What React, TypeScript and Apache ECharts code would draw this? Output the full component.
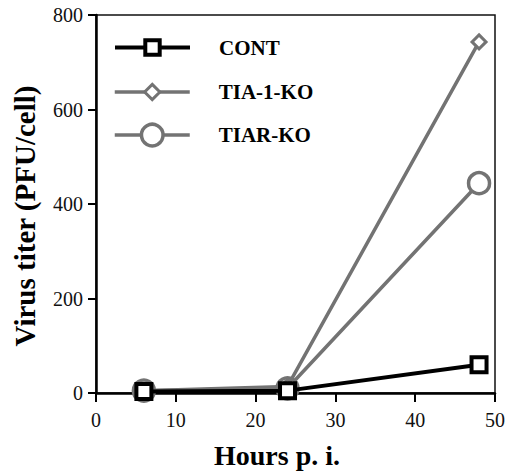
import React, { useEffect, useRef } from "react";
import * as echarts from "echarts";

const hours = [6, 24, 48];
const contValues = [3, 5, 60];
const tia1Values = [5, 14, 743];
const tiarValues = [5, 10, 444];
const seriesNames = ["CONT", "TIA-1-KO", "TIAR-KO"];
const xTitle = "Hours p. i.";
const yTitle = "Virus titer (PFU/cell)";

const FONT = "Liberation Serif";
const GRAY = "#737373";

export default function App() {
  const ref = useRef<HTMLDivElement>(null);
  useEffect(() => {
    if (!ref.current) return;
    const chart = echarts.init(ref.current, null, { renderer: "svg" });
    const pts = (vals: number[]) => hours.map((h, i) => [h, vals[i]]);
    const legendBase = (name: string, centerY: number, h: number, color: string, lw: number, bw: number) => ({
      data: [name],
      left: 113,
      top: centerY - h / 2,
      padding: 0,
      itemWidth: 75,
      itemHeight: h,
      selectedMode: false,
      lineStyle: { color, width: lw },
      itemStyle: { color: "#fff", borderColor: color, borderWidth: bw },
      textStyle: {
        fontFamily: FONT,
        fontWeight: "bold",
        fontSize: 21,
        color: "#000",
        padding: [0, 0, 0, 24],
      },
    });
    chart.setOption({
      animation: false,
      backgroundColor: "#fff",
      grid: {
        left: 96,
        right: 12,
        top: 15,
        bottom: 80,
        show: true,
        borderColor: "#111",
        borderWidth: 1.5,
        backgroundColor: "transparent",
      },
      legend: [
        legendBase(seriesNames[0], 46, 18, "#000", 4, 4),
        legendBase(seriesNames[1], 91, 19, GRAY, 3.5, 3),
        legendBase(seriesNames[2], 136, 27, GRAY, 3.5, 3.5),
      ],
      xAxis: {
        type: "value",
        min: 0,
        max: 50,
        interval: 10,
        axisLine: { show: true, onZero: false, lineStyle: { color: "#000", width: 2.5 } },
        axisTick: { show: true, inside: false, length: 9, lineStyle: { color: "#000", width: 2 } },
        splitLine: { show: false },
        axisLabel: { fontFamily: FONT, fontSize: 20, color: "#111", margin: 17 },
      },
      yAxis: {
        type: "value",
        min: 0,
        max: 800,
        interval: 200,
        axisLine: { show: true, onZero: false, lineStyle: { color: "#000", width: 2.5 } },
        axisTick: { show: true, inside: false, length: 8, lineStyle: { color: "#000", width: 2 } },
        splitLine: { show: false },
        axisLabel: { fontFamily: FONT, fontSize: 20, color: "#111", margin: 13 },
      },
      graphic: [
        {
          type: "text",
          x: 277,
          y: 455,
          style: {
            text: xTitle,
            fontFamily: FONT,
            fontWeight: "bold",
            fontSize: 28,
            fill: "#000",
            align: "center",
            verticalAlign: "middle",
          },
        },
        {
          type: "text",
          x: 25,
          y: 216,
          rotation: Math.PI / 2,
          style: {
            text: yTitle,
            fontFamily: FONT,
            fontWeight: "bold",
            fontSize: 29,
            fill: "#000",
            align: "center",
            verticalAlign: "middle",
          },
        },
      ],
      series: [
        {
          name: seriesNames[2],
          type: "line",
          data: pts(tiarValues),
          symbol: "circle",
          symbolSize: 21,
          lineStyle: { color: GRAY, width: 3.5 },
          itemStyle: { color: "#fff", borderColor: GRAY, borderWidth: 3.5 },
          z: 2,
        },
        {
          name: seriesNames[1],
          type: "line",
          data: pts(tia1Values),
          symbol: "diamond",
          symbolSize: 14,
          lineStyle: { color: GRAY, width: 3.5 },
          itemStyle: { color: "#fff", borderColor: GRAY, borderWidth: 3 },
          z: 3,
        },
        {
          name: seriesNames[0],
          type: "line",
          data: pts(contValues),
          symbol: "rect",
          symbolSize: 15,
          lineStyle: { color: "#000", width: 4 },
          itemStyle: { color: "#fff", borderColor: "#000", borderWidth: 4 },
          z: 4,
        },
      ],
    });
    return () => chart.dispose();
  }, []);
  return <div ref={ref} style={{ width: 508, height: 473, position: "absolute", left: 0, top: 0 }} />;
}
